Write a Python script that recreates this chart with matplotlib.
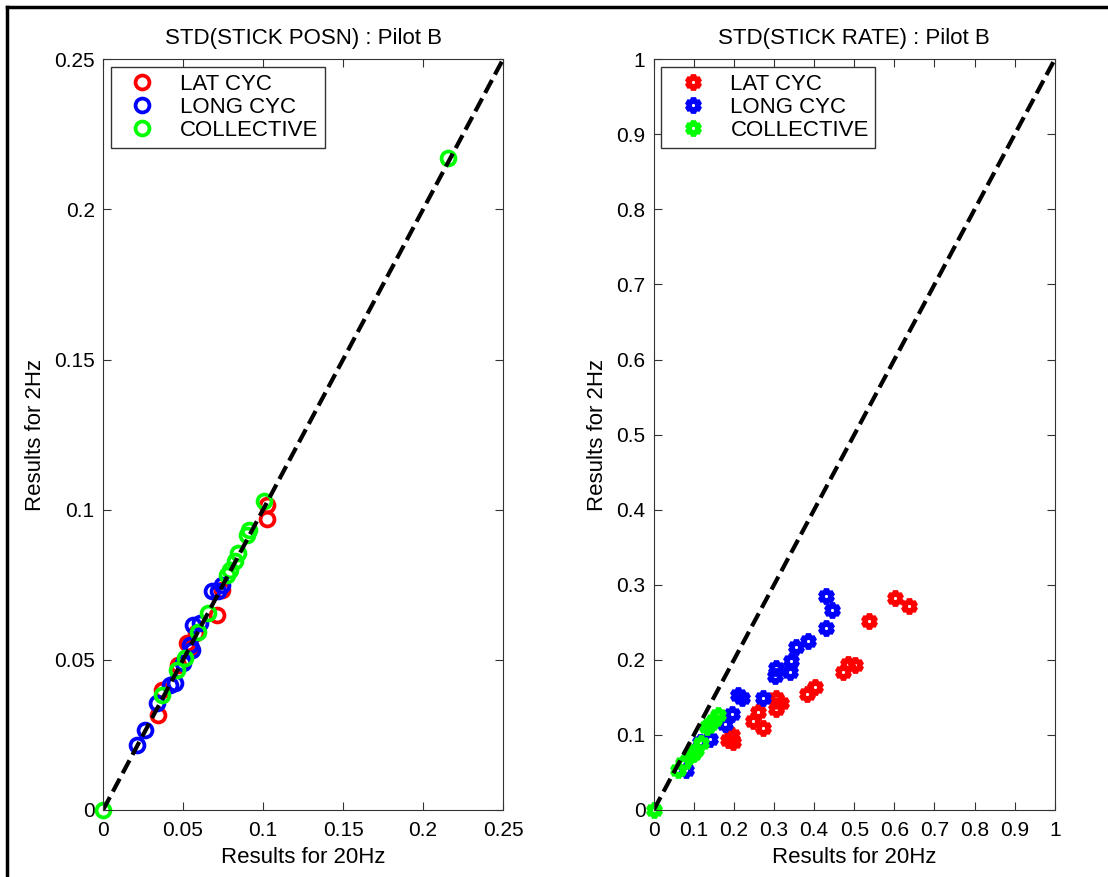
import matplotlib
matplotlib.use('Agg')
import matplotlib.pyplot as plt
from matplotlib.lines import Line2D

plt.rcParams['font.family'] = ['Liberation Sans', 'DejaVu Sans']

# Datos: STD(STICK POSN)
posn_lat_x = [0.1023, 0.1023, 0.0742, 0.0710, 0.0580, 0.0523, 0.0471, 0.0367, 0.0346, 0.0550]
posn_lat_y = [0.1016, 0.0969, 0.0733, 0.0650, 0.0590, 0.0555, 0.0483, 0.0400, 0.0317, 0.0540]
posn_long_x = [0.0742, 0.0679, 0.0721, 0.0565, 0.0606, 0.0544, 0.0554, 0.0450, 0.0419, 0.0335,
               0.0263, 0.0210, 0.0500]
posn_long_y = [0.0750, 0.0728, 0.0728, 0.0617, 0.0622, 0.0550, 0.0533, 0.0422, 0.0417, 0.0356,
               0.0267, 0.0217, 0.0490]
posn_coll_x = [0.0, 0.2155, 0.1006, 0.0915, 0.0898, 0.0846, 0.0825, 0.0794, 0.0773, 0.0658,
               0.0596, 0.0513, 0.0460, 0.0367]
posn_coll_y = [0.0, 0.2170, 0.1028, 0.0933, 0.0917, 0.0856, 0.0828, 0.0800, 0.0783, 0.0656,
               0.0594, 0.0506, 0.0467, 0.0383]

# Datos: STD(STICK RATE)
rate_lat_x = [0.601, 0.637, 0.537, 0.501, 0.485, 0.471, 0.401, 0.381, 0.306, 0.318, 0.306,
              0.260, 0.248, 0.273, 0.194, 0.185, 0.197]
rate_lat_y = [0.283, 0.272, 0.252, 0.193, 0.194, 0.184, 0.164, 0.155, 0.149, 0.142, 0.135,
              0.131, 0.118, 0.109, 0.100, 0.093, 0.091]
rate_long_x = [0.429, 0.445, 0.429, 0.385, 0.354, 0.343, 0.339, 0.306, 0.302, 0.219, 0.211,
               0.273, 0.194, 0.177, 0.140, 0.115, 0.0815]
rate_long_y = [0.285, 0.267, 0.243, 0.225, 0.217, 0.199, 0.184, 0.189, 0.178, 0.149, 0.153,
               0.149, 0.128, 0.115, 0.095, 0.090, 0.053]
rate_coll_x = [0.0, 0.160, 0.140, 0.132, 0.119, 0.106, 0.098, 0.073, 0.061, 0.150, 0.090]
rate_coll_y = [0.0, 0.126, 0.115, 0.110, 0.089, 0.080, 0.075, 0.062, 0.053, 0.120, 0.072]

labels = ['LAT CYC', 'LONG CYC', 'COLLECTIVE']
colores = ['#ff0000', '#0000ff', '#00ff00']
hexagram = (6, 1, 0)

fig = plt.figure(figsize=(11.08, 8.77), dpi=100)
ax1 = fig.add_axes([0.093, 0.0764, 0.361, 0.856])
ax2 = fig.add_axes([0.590, 0.0764, 0.362, 0.856])

def estilo(ax, lim, ticks, titulo):
    ax.set_xlim(0, lim)
    ax.set_ylim(0, lim)
    ax.set_xticks(ticks)
    ax.set_yticks(ticks)
    ax.set_xticklabels(['%g' % t for t in ticks])
    ax.set_yticklabels(['%g' % t for t in ticks])
    ax.tick_params(direction='in', length=6, labelsize=15, top=True, right=True,
                   color='#333333', pad=6)
    ax.tick_params(axis='x', pad=8)
    for s in ax.spines.values():
        s.set_color('#333333')
    ax.set_title(titulo, fontsize=16, pad=11)
    ax.set_xlabel('Results for 20Hz', fontsize=16, labelpad=5)
    ax.set_ylabel('Results for 2Hz', fontsize=16, labelpad=6)

# Gráfico izquierdo
posn = [(posn_lat_x, posn_lat_y), (posn_long_x, posn_long_y), (posn_coll_x, posn_coll_y)]
for (x, y), c, l in zip(posn, colores, labels):
    ax1.plot(x, y, 'o', mfc='none', mec=c, mew=2.7, ms=10, label=l, clip_on=False)
ax1.plot([0, 0.25], [0, 0.25], color='k', lw=3, dashes=(3.5, 1.5))
estilo(ax1, 0.25, [0, 0.05, 0.1, 0.15, 0.2, 0.25], 'STD(STICK POSN) : Pilot B')

# Gráfico derecho
rate = [(rate_lat_x, rate_lat_y), (rate_long_x, rate_long_y), (rate_coll_x, rate_coll_y)]
for (x, y), c, l in zip(rate, colores, labels):
    ax2.plot(x, y, ls='none', marker=hexagram, mfc='none', mec=c, mew=3.8, ms=10.5, label=l,
             clip_on=False)
ax2.plot([0, 1], [0, 1], color='k', lw=3, dashes=(3.5, 1.5))
estilo(ax2, 1, [0, 0.1, 0.2, 0.3, 0.4, 0.5, 0.6, 0.7, 0.8, 0.9, 1], 'STD(STICK RATE) : Pilot B')

for ax in (ax1, ax2):
    leg = ax.legend(loc='upper left', fontsize=16, fancybox=False, edgecolor='#333333',
                    framealpha=1, handletextpad=0.6, borderaxespad=0.35, labelspacing=0.1,
                    borderpad=0.3, handlelength=2.2)
    leg.get_frame().set_linewidth(1.0)

# Borde del gráfico (arriba e izquierda)
fig.add_artist(Line2D([0.0065, 0.0065], [0, 0.992], transform=fig.transFigure, color='k', lw=2.5))
fig.add_artist(Line2D([0.0065, 1], [0.992, 0.992], transform=fig.transFigure, color='k', lw=2.5))

fig.savefig('out.png', dpi=100)
